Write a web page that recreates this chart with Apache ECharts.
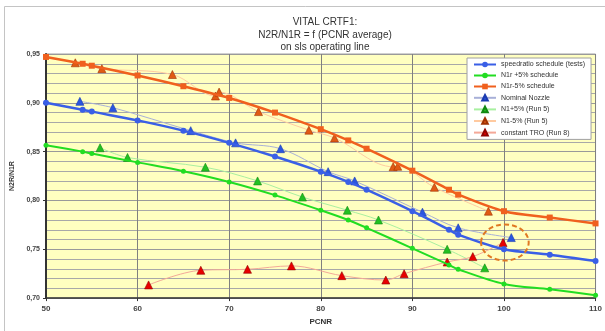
<!DOCTYPE html>
<html><head><meta charset="utf-8">
<script src="https://cdn.jsdelivr.net/npm/echarts@6/dist/echarts.min.js"></script>
<style>html,body{margin:0;padding:0;background:#fff}#c{width:605px;height:331px}</style>
</head><body><div id="c"></div>
<script>
// x positions of the schedule points
const schedX = [50, 54, 55, 60, 65, 70, 75, 80, 83, 85, 90, 94, 95, 100, 105, 110];
const speedratioY = [0.900, 0.893, 0.891, 0.882, 0.8715, 0.859, 0.845, 0.8295, 0.819, 0.811, 0.789, 0.770, 0.765, 0.750, 0.7445, 0.738];
const plus5Y = [0.8565, 0.850, 0.848, 0.839, 0.830, 0.819, 0.8055, 0.790, 0.780, 0.772, 0.751, 0.734, 0.7295, 0.7145, 0.709, 0.703];
const minus5Y = [0.947, 0.940, 0.938, 0.928, 0.917, 0.905, 0.890, 0.873, 0.8615, 0.853, 0.8305, 0.811, 0.806, 0.789, 0.7825, 0.7765];

const nominalX = [53.7, 57.3, 65.8, 70.7, 75.6, 80.8, 83.7, 91.1, 95.0, 100.8];
const nominalY = [0.9015, 0.895, 0.8715, 0.859, 0.853, 0.8295, 0.820, 0.788, 0.772, 0.762];

const run5PlusX = [55.9, 58.9, 67.4, 73.1, 78.0, 82.9, 86.3, 93.8, 97.9];
const run5PlusY = [0.854, 0.844, 0.834, 0.820, 0.8035, 0.790, 0.780, 0.750, 0.731];

const run5MinusX = [53.2, 56.1, 63.8, 68.5, 68.9, 73.2, 78.7, 81.5, 87.9, 88.4, 92.4, 98.3];
const run5MinusY = [0.941, 0.935, 0.929, 0.907, 0.911, 0.891, 0.872, 0.864, 0.8345, 0.835, 0.8135, 0.789];

const troX = [61.2, 66.9, 72.0, 76.8, 82.3, 87.1, 89.1, 93.8, 96.6, 99.9];
const troY = [0.7135, 0.7285, 0.7295, 0.733, 0.723, 0.7185, 0.725, 0.737, 0.7425, 0.757];

// highlighted region (centre and half-extent in data units)
const highlightCenter = [100.1, 0.757];
const highlightHalf = [2.6, 0.0185];

const xTicks = [50, 60, 70, 80, 90, 100, 110];
const yTicks = [0.70, 0.75, 0.80, 0.85, 0.90, 0.95];

const names = ['speedratio schedule (tests)', 'N1r +5% schedule', 'N1r-5% schedule', 'Nominal Nozzle', 'N1+5% (Run 5)', 'N1-5% (Run 5)', 'constant TRO (Run 8)'];

const zip = (xs, ys) => xs.map((x, i) => [x, ys[i]]);

const chart = echarts.init(document.getElementById('c'), null, {renderer: 'canvas'});

function mainLine(name, ys, color, symbol, size, width) {
  return {
    name, type: 'line', smooth: 0.3, data: zip(schedX, ys),
    symbol, symbolSize: size, showSymbol: true,
    lineStyle: {color, width}, itemStyle: {color}, z: 5
  };
}
function triLine(name, xs, ys, color, lineColor, border) {
  return {
    name, type: 'line', smooth: 0.35, data: zip(xs, ys),
    symbol: 'triangle', symbolSize: 8,
    lineStyle: {color: lineColor, width: 1}, itemStyle: {color, borderColor: border, borderWidth: 0.6}, z: 4
  };
}

chart.setOption({
  animation: false,
  backgroundColor: '#fff',
  graphic: [{
    type: 'rect', shape: {x: 4.5, y: 6.5, width: 640, height: 360},
    style: {fill: 'none', stroke: '#c4c4c4', lineWidth: 1}, z: -10, silent: true
  }],
  title: {
    text: 'VITAL CRTF1:\nN2R/N1R = f (PCNR average)\non sls operating line',
    left: 320, top: 11, textAlign: 'center',
    textStyle: {fontFamily: 'Liberation Sans', fontSize: 10, fontWeight: 'normal', color: '#333', lineHeight: 12.5}
  },
  legend: {
    orient: 'vertical', left: 467, top: 58,
    backgroundColor: '#fff', borderColor: '#a0a0a0', borderWidth: 1,
    padding: [3, 6, 3, 6], itemWidth: 22, itemHeight: 7, itemGap: 4,
    textStyle: {fontFamily: 'Liberation Sans', fontSize: 7, color: '#333'},
    data: names
  },
  grid: {left: 46, right: 8, top: 54, bottom: 31, show: true, backgroundColor: '#ffffc0', borderColor: '#a0a0a0', borderWidth: 1},
  xAxis: {
    type: 'value', min: 50, max: 110, interval: 10,
    name: 'PCNR', nameLocation: 'middle', nameGap: 17,
    nameTextStyle: {fontFamily: 'Liberation Sans', fontSize: 8, fontWeight: 'bold', color: '#333'},
    axisLine: {show: true, onZero: false, lineStyle: {color: '#333', width: 1.5}},
    axisTick: {show: true, length: 3, lineStyle: {color: '#333'}},
    axisLabel: {fontFamily: 'Liberation Sans', fontSize: 8, fontWeight: 'bold', color: '#444', margin: 7,
      formatter: v => xTicks.includes(v) ? String(v) : ''},
    splitLine: {show: true, lineStyle: {color: '#808080', width: 1}}
  },
  yAxis: {
    type: 'value', min: 0.70, max: 0.95, interval: 0.05,
    name: 'N2R/N1R', nameLocation: 'middle', nameGap: 27, nameRotate: 90,
    nameTextStyle: {fontFamily: 'Liberation Sans', fontSize: 7, fontWeight: 'bold', color: '#333'},
    axisLine: {show: true, onZero: false, lineStyle: {color: '#333', width: 2}},
    axisTick: {show: true, length: 3, lineStyle: {color: '#333'}},
    axisLabel: {fontFamily: 'Liberation Sans', fontSize: 7, fontWeight: 'bold', color: '#444', margin: 6,
      formatter: v => { const t = yTicks.find(k => Math.abs(k - v) < 1e-6); return t === undefined ? '' : t.toFixed(2).replace('.', ','); }},
    splitLine: {show: true, lineStyle: {color: '#9a9a9a', width: 1}},
    minorTick: {show: false, splitNumber: 5},
    minorSplitLine: {show: true, lineStyle: {color: '#a8a8a8', width: 1}}
  },
  series: [
    mainLine(names[0], speedratioY, '#3a5fe6', 'circle', 6, 2.5),
    mainLine(names[1], plus5Y, '#22dd22', 'circle', 5, 2),
    mainLine(names[2], minus5Y, '#f0601e', 'rect', 6, 2.5),
    triLine(names[3], nominalX, nominalY, '#2a55e0', '#a8b0d8', '#1a3ab0'),
    triLine(names[4], run5PlusX, run5PlusY, '#22c022', '#a8f0a0', '#118811'),
    triLine(names[5], run5MinusX, run5MinusY, '#e05a14', '#ffcaa0', '#a03000'),
    triLine(names[6], troX, troY, '#e80000', '#f4a898', '#900000'),
    {
      type: 'custom', name: 'highlight', data: [highlightCenter], z: 6, silent: true,
      renderItem: (params, api) => {
        const c = api.coord([api.value(0), api.value(1)]);
        const s = api.size(highlightHalf);
        return {
          type: 'ellipse',
          shape: {cx: c[0], cy: c[1], rx: s[0], ry: s[1]},
          style: {fill: 'none', stroke: '#e07822', lineWidth: 2, lineDash: [5, 3]}
        };
      }
    }
  ]
});
</script></body></html>
